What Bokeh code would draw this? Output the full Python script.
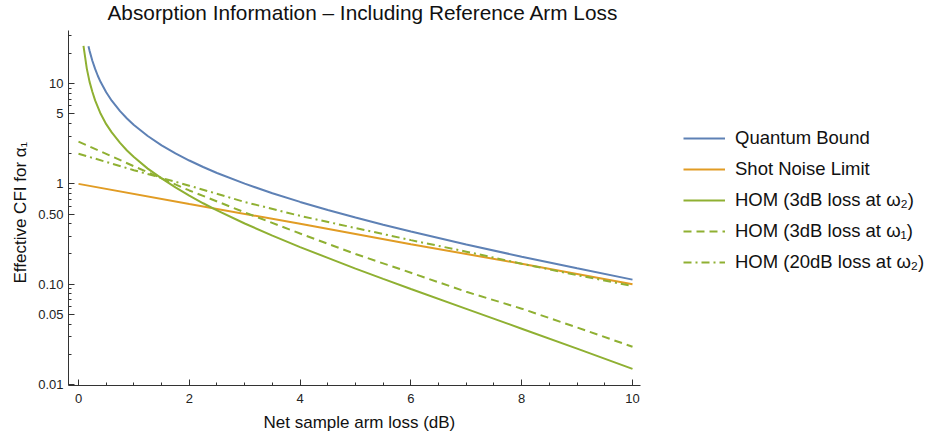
from bokeh.plotting import figure
from bokeh.models import (Range1d, FixedTicker, CustomJSTickFormatter, Legend, LegendItem,
                          Title, SingleIntervalTicker, Label)
from bokeh.embed import file_html
from bokeh.resources import INLINE
import math

FONT = "Liberation Sans"

# ---- data ----
qb_x = [0.18, 0.2, 0.25, 0.3, 0.35, 0.4, 0.5, 0.6, 0.75, 0.875, 1.0, 1.25, 1.5, 1.75, 2.0, 2.25, 2.5,
        3.0, 3.5, 4.0, 4.5, 5.0, 5.5, 6.0, 7.0, 8.0, 9.0, 10.0]
qb_y = [23.6, 21.2, 16.9, 14.0, 11.9, 10.36, 8.2, 6.75, 5.31, 4.49, 3.86, 3.0, 2.42, 2.015, 1.71, 1.474, 1.285,
        1.005, 0.807, 0.661, 0.550, 0.462, 0.392, 0.335, 0.249, 0.188, 0.144, 0.111]

sn_x = [0, 2, 4, 6, 8, 10]
sn_y = [1.0, 0.63, 0.40, 0.25, 0.16, 0.10]

h2_x = [0.09, 0.15, 0.2, 0.25, 0.3, 0.4, 0.5, 0.6, 0.75, 0.875, 1.0, 1.25, 1.5, 1.75, 2.0, 2.25, 2.5,
        3.0, 3.5, 4.0, 4.5, 5.0, 5.5, 6.0, 7.0, 8.0, 9.0, 10.0]
h2_y = [23.8, 14.1, 10.4, 8.3, 6.8, 5.0, 3.94, 3.26, 2.56, 2.15, 1.85, 1.42, 1.135, 0.922, 0.763, 0.641, 0.544,
        0.403, 0.305, 0.234, 0.183, 0.143, 0.113, 0.0896, 0.0568, 0.0360, 0.0228, 0.0143]

h1_x = [0, 1, 2, 3, 4, 5, 6, 7, 8, 9, 10]
h1_y = [2.64, 1.50, 0.86, 0.52, 0.32, 0.20, 0.130, 0.084, 0.057, 0.037, 0.0238]

h20_x = [0, 1, 2, 3, 4, 5, 6, 7, 8, 9, 10]
h20_y = [2.0, 1.37, 0.96, 0.66, 0.48, 0.363, 0.275, 0.211, 0.160, 0.123, 0.096]

labels = ["Quantum Bound", "Shot Noise Limit", "HOM (3dB loss at \u03c9\u2082)",
          "HOM (3dB loss at \u03c9\u2081)", "HOM (20dB loss at \u03c9\u2082)"]

x_lim = (-0.1805, 10.144)
y_lim = (0.00977, 33.8)
y_major = [0.01, 0.05, 0.1, 0.5, 1, 5, 10]
y_minor = [0.02, 0.03, 0.04, 0.06, 0.07, 0.08, 0.09, 0.2, 0.3, 0.4, 0.6, 0.7, 0.8, 0.9,
           2, 3, 4, 6, 7, 8, 9, 20, 30]

BLUE = "#5E81B5"
ORANGE = "#E19C24"
GREEN = "#8FB032"

# frame spans the whole canvas width and reaches the top (legend and title sit inside it);
# the axes are bounded to the data part
LEFT, BOTTOM = 68, 51
PX_PER_UNIT = 55.4
PX_PER_DECADE = 100.3
frame_h = 436 - BOTTOM
x_end = x_lim[0] + (928 - LEFT) / PX_PER_UNIT
y_end = 10 ** (math.log10(y_lim[0]) + frame_h / PX_PER_DECADE)

p = figure(width=928, height=436, y_axis_type="log", output_backend="svg", toolbar_location=None,
           x_range=Range1d(x_lim[0], x_end), y_range=Range1d(y_lim[0], y_end),
           min_border_left=LEFT, min_border_right=0, min_border_top=0, min_border_bottom=BOTTOM)
p.outline_line_color = None
p.grid.visible = False
p.background_fill_color = "white"

r_qb = p.line(qb_x, qb_y, line_color=BLUE, line_width=2)
r_sn = p.line(sn_x, sn_y, line_color=ORANGE, line_width=2)
r_h2 = p.line(h2_x, h2_y, line_color=GREEN, line_width=2)
r_h1 = p.line(h1_x, h1_y, line_color=GREEN, line_width=2, line_dash="8 5")
r_h20 = p.line(h20_x, h20_y, line_color=GREEN, line_width=2, line_dash="8 4 2 4")

# axes
for ax in (p.xaxis[0], p.yaxis[0]):
    ax.axis_line_color = "#333333"
    ax.major_tick_line_color = "#333333"
    ax.minor_tick_line_color = "#333333"
    ax.major_tick_in = 6
    ax.major_tick_out = 0
    ax.minor_tick_in = 3
    ax.minor_tick_out = 0
    ax.major_label_text_font = FONT
    ax.major_label_text_font_size = "13px"
    ax.major_label_text_color = "#222222"

p.xaxis.ticker = SingleIntervalTicker(interval=2, num_minor_ticks=4)
p.xaxis.bounds = x_lim
p.xaxis.major_label_standoff = 8

p.yaxis.ticker = FixedTicker(ticks=y_major, minor_ticks=y_minor)
p.yaxis.bounds = y_lim
p.yaxis.formatter = CustomJSTickFormatter(code="return tick < 0.99 ? tick.toFixed(2) : tick.toFixed(0);")
p.yaxis.major_label_standoff = 5

# axis labels as side titles, positioned along the bounded axes
xlabel = Title(text="Net sample arm loss (dB)", align="left", offset=195,
               text_font=FONT, text_font_size="17px", text_font_style="normal",
               text_color="#111111", standoff=10)
p.add_layout(xlabel, "below")

ylabel = Title(text="Effective CFI for \u03b1\u2081", align="left", offset=102,
               text_font=FONT, text_font_size="17px", text_font_style="normal",
               text_color="#111111", standoff=12)
p.add_layout(ylabel, "left")

# chart title (screen units, measured from the frame's bottom-left corner)
title = Label(x=39, y=frame_h - 12, x_units="screen", y_units="screen",
              text="Absorption Information \u2013 Including Reference Arm Loss",
              text_font=FONT, text_font_size="20.8px", text_color="#111111",
              text_align="left", text_baseline="middle")
p.add_layout(title)

legend = Legend(items=[LegendItem(label=labels[0], renderers=[r_qb]),
                       LegendItem(label=labels[1], renderers=[r_sn]),
                       LegendItem(label=labels[2], renderers=[r_h2]),
                       LegendItem(label=labels[3], renderers=[r_h1]),
                       LegendItem(label=labels[4], renderers=[r_h20])],
                location=(615, 112), padding=0, margin=0, spacing=9,
                glyph_width=42, glyph_height=22, label_height=22, label_standoff=10,
                label_text_font=FONT, label_text_font_size="18.5px", label_text_color="#111111",
                border_line_alpha=0, background_fill_alpha=0)
p.add_layout(legend)

open("out.html", "w").write(file_html(p, INLINE))
